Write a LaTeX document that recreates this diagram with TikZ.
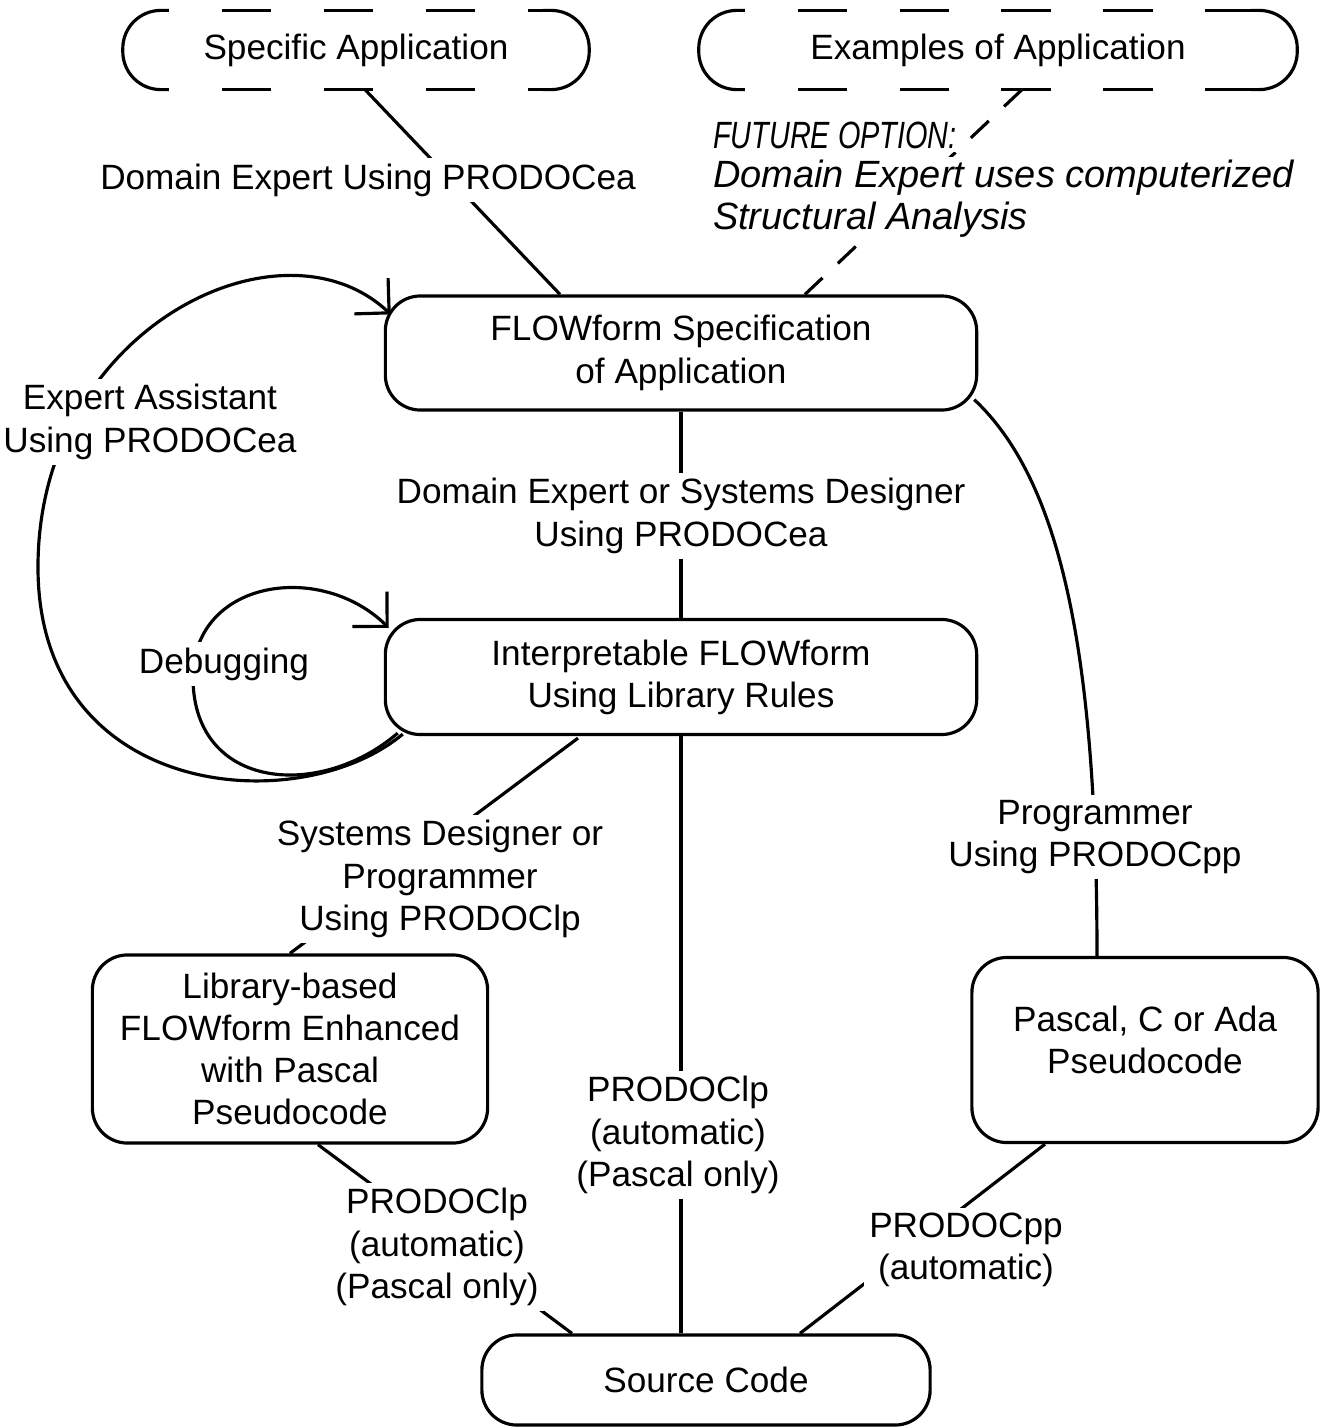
\documentclass[tikz,border=0pt]{standalone}
\usepackage{fontspec}
\setmainfont{Liberation Sans}
\usetikzlibrary{arrows.meta,calc}

\begin{document}
\begin{tikzpicture}[x=0.01cm, y=0.01cm, line width=0.9pt,
    every node/.style={font=\fontsize{10}{12}\selectfont, align=center},
    stage/.style={draw, rounded corners=0.35cm, inner sep=0pt},
    outerbox/.style={inner sep=0pt, minimum height=0.76cm},
    edgelabel/.style={fill=white, inner sep=1.5pt},
    futurelabel/.style={fill=white, inner sep=1pt, anchor=west, font=\fontsize{10.8}{12}\selectfont\itshape},
    futureline/.style={dash pattern=on 7pt off 6pt},
    sideline/.style={dash pattern=on 14pt off 15pt, dash phase=14pt},
    feedback/.style={-{Straight Barb[length=7pt,width=14pt]}}]

    \useasboundingbox (0,0) rectangle (1329,-1427);

    % Outer sources (dashed)
    \node[outerbox, minimum width=4.63cm] (spec) at (356,-50) {Specific Application};
    \node[outerbox, minimum width=5.95cm] (exam) at (998,-50) {Examples of Application};
    \foreach \b in {spec,exam} {
        \draw[rounded corners=0.38cm] ([xshift=0.46cm]\b.north west) -- (\b.north west) -- (\b.south west) -- ([xshift=0.46cm]\b.south west);
        \draw[rounded corners=0.38cm] ([xshift=-0.46cm]\b.north east) -- (\b.north east) -- (\b.south east) -- ([xshift=-0.46cm]\b.south east);
        \draw[sideline] ([xshift=0.46cm]\b.north west) -- ([xshift=-0.46cm]\b.north east);
        \draw[sideline] ([xshift=0.46cm]\b.south west) -- ([xshift=-0.46cm]\b.south east);
    }

    % Stages
    \node[stage, minimum width=5.91cm, minimum height=1.14cm] (flow) at (681,-353) {FLOWform Specification\\of Application};
    \node[stage, minimum width=5.91cm, minimum height=1.15cm] (int) at (681,-677) {Interpretable FLOWform\\Using Library Rules};
    \node[stage, minimum width=3.95cm, minimum height=1.88cm] (lib) at (290,-1049) {Library-based\\FLOWform Enhanced\\with Pascal\\Pseudocode};
    \node[stage, minimum width=3.46cm, minimum height=1.85cm] (pas) at (1145,-1050) {Pascal, C or Ada\\Pseudocode\\[-6pt]\mbox{}};
    \node[stage, minimum width=4.48cm, minimum height=0.90cm] (src) at (706,-1380) {Source Code};

    % Connectors
    \draw ($(spec.south)+(9,0)$) -- ($(flow.north)+(-121,0)$);
    \draw[futureline] ($(exam.south)+(24,0)$) -- ($(flow.north)+(124,0)$);
    \draw (flow.south) -- (int.north);
    \draw ($(flow.south east)+(-4,12)$) .. controls (1060,-480) and (1097,-650) .. ($(pas.north)+(-48,0)$);
    \draw (int.south) -- (int.south |- src.north);
    \draw ($(int.south)+(-103,-2)$) -- (lib.north);
    \draw ($(lib.south)+(28,0)$) -- ($(src.north)+(-134,0)$);
    \draw ($(pas.south)+(-100,0)$) -- ($(src.north)+(94,0)$);

    % Feedback loops
    \draw[feedback] ($(int.south west)+(19,2)$) .. controls (300,-820) and (40,-800) .. (38,-570)
        .. controls (36,-330) and (280,-210) .. ($(flow.north west)+(7,-20)$);
    \draw[feedback] ($(int.south west)+(14,3)$) .. controls (320,-800) and (195,-790) .. (193,-680)
        .. controls (191,-580) and (320,-560) .. ($(int.north west)+(5,-10)$);

    % Labels
    \node[edgelabel] (lblspec) at (368,-180) {Domain Expert Using PRODOCea};
    \node[futurelabel] (lblfut) at (708,-135) {\scalebox{0.76}[1]{FUTURE OPTION:}};
    \node[futurelabel] (lblfut2) at (708,-178) {Domain Expert uses computerized};
    \node[futurelabel] (lblfut3) at (708,-220) {Structural Analysis};
    \node[edgelabel] (lbldes) at (681,-516) {Domain Expert or Systems Designer\\Using PRODOCea};
    \node[edgelabel] (lblexp) at (150,-422) {Expert Assistant\\Using PRODOCea};
    \node[edgelabel] (lbldbg) at (224,-664) {Debugging};
    \node[edgelabel] (lblsys) at (440,-879) {Systems Designer or\\Programmer\\Using PRODOClp};
    \node[edgelabel] (lblprg) at (1095,-837) {Programmer\\Using PRODOCpp};
    \node[edgelabel] (lblmid) at (678,-1135) {PRODOClp\\(automatic)\\(Pascal only)};
    \node[edgelabel] (lbllib) at (437,-1247) {PRODOClp\\(automatic)\\(Pascal only)};
    \node[edgelabel] (lblpp) at (966,-1250) {PRODOCpp\\(automatic)};
\end{tikzpicture}
\end{document}
